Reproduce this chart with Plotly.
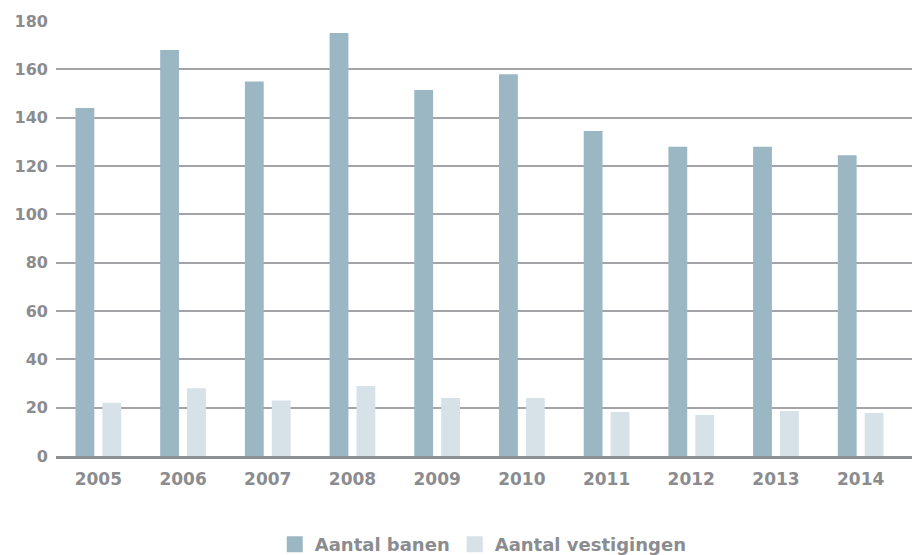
import plotly.graph_objects as go

years = ["2005", "2006", "2007", "2008", "2009", "2010", "2011", "2012", "2013", "2014"]
banen = [144, 168, 155, 175, 151.5, 158, 134.5, 128, 128, 124.5]
vestigingen = [22, 28, 23, 29, 24, 24, 18.2, 17, 18.6, 17.8]
y_ticks = [0, 20, 40, 60, 80, 100, 120, 140, 160, 180]
series_names = ["Aantal banen", "Aantal vestigingen"]
series_colors = ["#9bb7c3", "#d6e1e8"]

grey = "#8b8c8f"
fig = go.Figure()
fig.add_trace(go.Bar(x=years, y=banen, name=series_names[0], marker_color=series_colors[0],
                     marker_line_width=0, showlegend=False))
fig.add_trace(go.Bar(x=years, y=vestigingen, name=series_names[1], marker_color=series_colors[1],
                     marker_line_width=0, showlegend=False))
for nm, col in zip(series_names, series_colors):
    fig.add_trace(go.Scatter(x=[None], y=[None], mode="markers", name=nm,
                             marker=dict(symbol="square", size=16, color=col)))

fig.update_layout(
    width=917, height=555,
    margin=dict(l=56, r=5, t=21, b=99),
    plot_bgcolor="white", paper_bgcolor="white",
    barmode="group", bargap=0.365, bargroupgap=0.3,
    showlegend=True,
    legend=dict(orientation="h", x=0.527, xanchor="center", xref="container",
                y=0.052, yanchor="top", yref="container",
                font=dict(family="DejaVu Sans", size=18, color=grey, weight="bold"),
                itemwidth=30, traceorder="normal", itemsizing="trace", tracegroupgap=0),
    font=dict(family="DejaVu Sans", color=grey),
)
fig.update_yaxes(range=[0, 180], tickvals=y_ticks, showgrid=True, gridcolor="#a3a4a8", gridwidth=1.5,
                 zeroline=False, showline=False, ticks="", ticklabelstandoff=7,
                 tickfont=dict(family="DejaVu Sans", size=16, color=grey, weight="bold"))
fig.update_xaxes(range=[-0.5, 9.606], showline=True, linecolor="#8e9094", linewidth=3, ticks="",
                 tickfont=dict(family="DejaVu Sans", size=17, color=grey, weight="bold"),
                 ticklabelstandoff=6)
fig.write_html("out.html")
